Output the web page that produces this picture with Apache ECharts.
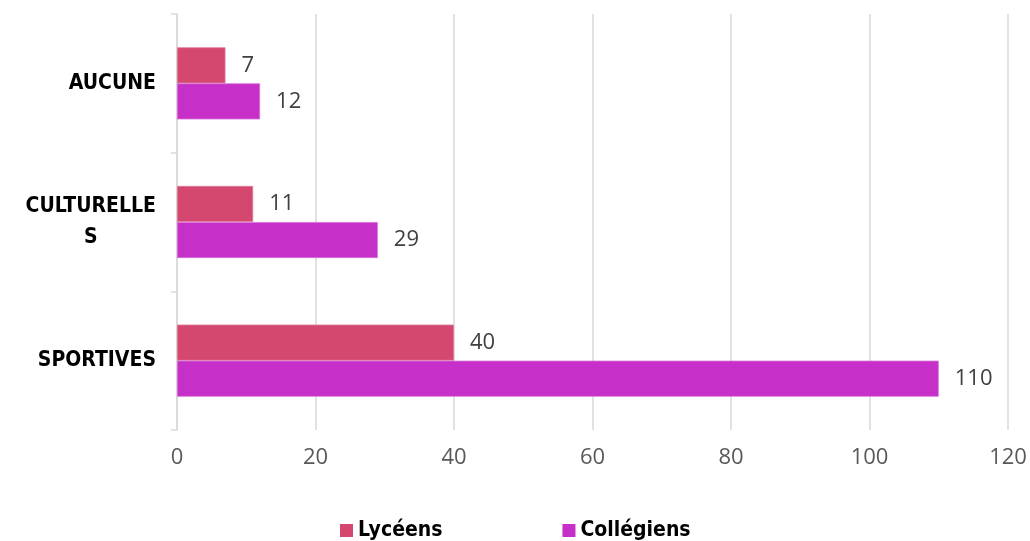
<!DOCTYPE html>
<html>
<head>
<meta charset="utf-8">
<script src="https://cdn.jsdelivr.net/npm/echarts@6/dist/echarts.min.js"></script>
<style>
html,body{margin:0;padding:0;background:#fff;}
#main{width:1030px;height:541px;}
</style>
</head>
<body>
<div id="main"></div>
<script>
const categories = ['AUCUNE', 'CULTURELLES', 'SPORTIVES'];
const lyceens = [7, 11, 40];
const collegiens = [12, 29, 110];
const xTicks = { min: 0, max: 120, interval: 20 };

const chart = echarts.init(document.getElementById('main'));
const valueLabel = {
  show: true,
  position: 'right',
  distance: 16,
  color: '#404040',
  fontFamily: 'Open Sans',
  fontSize: 22
};
const catFont = 'DejaVu Sans Condensed';
chart.setOption({
  animation: false,
  backgroundColor: '#ffffff',
  grid: { left: 177, right: 22, top: 14, bottom: 111, containLabel: false },
  legend: {
    data: ['Lycéens', 'Collégiens'],
    left: 340,
    top: 520,
    padding: 0,
    itemWidth: 13,
    itemHeight: 13,
    itemGap: 120,
    icon: 'rect',
    itemStyle: { borderWidth: 0 },
    textStyle: { fontFamily: catFont, fontWeight: 'bold', fontSize: 21, color: '#000', padding: [0, 0, 0, 0] }
  },
  xAxis: {
    type: 'value',
    min: xTicks.min,
    max: xTicks.max,
    interval: xTicks.interval,
    axisLine: { show: false },
    axisTick: { show: false },
    splitLine: { show: true, lineStyle: { color: '#d9d9d9', width: 1.5 } },
    axisLabel: { color: '#595959', fontFamily: 'Open Sans', fontSize: 22, margin: 17 }
  },
  yAxis: {
    type: 'category',
    data: categories,
    inverse: true,
    axisLine: { show: true, lineStyle: { color: '#d9d9d9', width: 1.5 } },
    axisTick: { show: true, length: 6, lineStyle: { color: '#d9d9d9', width: 1.5 } },
    axisLabel: {
      margin: 21,
      color: '#000',
      fontFamily: catFont,
      fontWeight: 'bold',
      fontSize: 21,
      formatter: function (v) {
        if (v === 'CULTURELLES') return '{c|CULTURELLE}\n{c|S}';
        return v;
      },
      rich: {
        c: { align: 'center', fontFamily: catFont, fontWeight: 'bold', fontSize: 21, color: '#000', lineHeight: 31 }
      }
    }
  },
  series: [
    {
      name: 'Lycéens',
      type: 'bar',
      data: lyceens,
      barGap: '0%',
      barCategoryGap: '48%',
      itemStyle: { color: '#d4476e', borderColor: '#e07a97', borderWidth: 0.8 },
      label: valueLabel
    },
    {
      name: 'Collégiens',
      type: 'bar',
      data: collegiens,
      barGap: '0%',
      barCategoryGap: '48%',
      itemStyle: { color: '#c62fc8', borderColor: '#d870da', borderWidth: 0.8 },
      label: valueLabel
    }
  ]
});
</script>
</body>
</html>
